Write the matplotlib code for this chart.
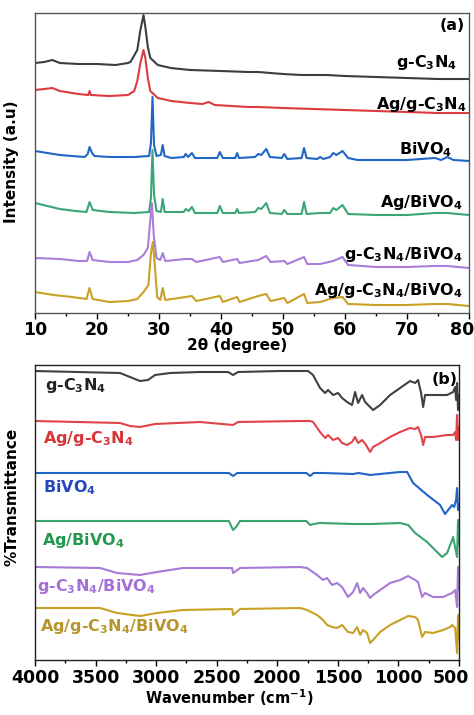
import matplotlib
matplotlib.use('Agg')
import matplotlib.pyplot as plt
import matplotlib.transforms as mtransforms
from matplotlib.ticker import MultipleLocator

plt.rcParams['font.family'] = ['DejaVu Sans']
plt.rcParams['font.weight'] = 'bold'
plt.rcParams['mathtext.default'] = 'bf'

# ---- XRD data (2theta, intensity a.u., offset stacked) ----
gcn_tt = [10, 11.5, 12.8, 14, 17, 20, 23, 25, 25.4, 26.5, 27.0, 27.5, 27.8, 28.2, 28.6, 29.8,
          31.9, 35, 40, 44.4, 46, 50, 53, 57, 60, 65, 70, 75, 80]
gcn_i = [250, 251, 253, 250, 249, 249, 248, 250, 251, 263, 283, 298, 286, 266, 255, 248,
         245, 243, 242, 241, 241, 239, 238, 238, 237, 236, 235, 234, 234]

aggcn_tt = [10, 11.5, 12.8, 14, 17, 18.6, 18.8, 19.0, 22, 25, 26, 26.5, 27.0, 27.5, 27.8, 28.2,
            28.6, 29.8, 32, 35, 37, 38, 39, 44.4, 46, 50, 55, 60, 65, 70, 75, 80]
aggcn_i = [223, 224, 225, 222, 219, 218, 222, 218, 217, 218, 222, 232, 250, 263, 255, 235,
           222, 215, 212, 210, 209, 211, 208, 206, 206, 205, 204, 203, 202, 201, 200, 200]

bvo_tt = [10, 12, 14, 16, 18, 18.5, 18.8, 19.2, 19.6, 22, 26, 28.4, 28.7, 28.95, 29.2, 29.6,
          30.3, 30.6, 30.9, 32, 34.0, 34.3, 34.7, 35.3, 35.8, 39.4, 39.8, 40.3, 42.3, 42.6, 42.9,
          45.5, 46.0, 46.5, 47.3, 47.9, 49.8, 50.2, 50.7, 53.0, 53.4, 53.8, 55.5, 56.0, 56.5,
          57.6, 58.1, 58.6, 59.6, 60.5, 62, 65, 70, 74.5, 75.5, 76.5, 77.5, 80]
bvo_i = [162, 160, 158, 157, 156, 159, 166, 160, 157, 156, 156, 157, 170, 216, 168, 157,
         158, 168, 157, 155, 156, 159, 156, 160, 155, 155, 161, 155, 155, 160, 155,
         156, 159, 158, 164, 156, 155, 159, 154, 155, 165, 155, 154, 156, 154,
         156, 160, 158, 162, 155, 153, 153, 153, 155, 153, 156, 153, 152]

agbvo_tt = [10, 12, 14, 16.5, 18.3, 18.8, 19.3, 22, 26, 28.4, 28.7, 28.95, 29.2, 29.6,
            30.3, 30.6, 30.9, 34.0, 34.3, 34.8, 35.3, 35.8, 39.4, 39.8, 40.3, 42.3, 42.6, 42.9,
            45.5, 46, 46.5, 47.3, 47.9, 49.8, 50.2, 50.7, 53.0, 53.4, 53.8, 56, 57.6, 58.1,
            58.6, 59.6, 60.5, 65, 70, 74.5, 76.5, 80]
agbvo_i = [110, 107, 104, 102, 101, 111, 103, 101, 100, 101, 115, 163, 118, 102,
           101, 114, 101, 101, 104, 102, 106, 100, 100, 107, 100, 100, 104, 100,
           101, 105, 104, 110, 100, 99, 103, 99, 99, 111, 99, 100, 100, 105,
           103, 108, 99, 98, 98, 100, 100, 98]

gcnbvo_tt = [10, 14, 17, 18.4, 18.8, 19.3, 22, 25, 26.5, 27.5, 28.2, 28.55, 28.85, 29.15, 29.6,
             30.2, 30.6, 31, 34.3, 35.3, 36, 39.8, 40.3, 42.6, 43, 46, 47.3, 48, 50.2, 50.7,
             53.4, 53.9, 56, 58.1, 59.6, 60.5, 65, 70, 74.5, 76.5, 80]
gcnbvo_i = [55, 54, 52, 52, 61, 53, 51, 51, 53, 58, 65, 90, 110, 78, 55,
            53, 60, 52, 54, 54, 51, 56, 51, 54, 50, 53, 57, 51, 52, 49,
            56, 49, 49, 52, 56, 48, 46, 46, 47, 47, 45]

all_tt = [10, 13, 16, 18.3, 18.8, 19.3, 22, 25, 26.5, 27.5, 28.3, 28.7, 29.0, 29.3, 29.7,
          30.2, 30.6, 31, 34.3, 35.3, 36, 39.8, 40.3, 42.6, 43, 46, 47.3, 48, 50.2, 50.7,
          53.4, 53.9, 56, 58.1, 59.6, 60.5, 65, 70, 74.5, 76.5, 80]
all_i = [21, 18, 16, 14, 25, 14, 11, 12, 14, 21, 28, 60, 71, 50, 16,
         13, 25, 13, 16, 17, 12, 17, 11, 16, 11, 17, 19, 12, 15, 10,
         19, 10, 11, 15, 16, 9, 8, 8, 9, 9, 7]

# ---- FTIR data (wavenumber cm-1, transmittance a.u., offset stacked) ----
ir_gcn_w = [4000, 3298, 3216, 3133, 3067, 3009, 2885, 2638, 2406, 2365, 2324, 1977, 1746, 1705,
            1647, 1605, 1581, 1539, 1498, 1465, 1424, 1383, 1358, 1333, 1300, 1275, 1234, 1209,
            1151, 1069, 986, 904, 862, 838, 813, 796, 780, 714, 598, 549, 532, 524, 516, 508, 500]
ir_gcn_t = [289, 287, 283, 279, 280, 285, 287, 288, 288, 285, 288, 289, 289, 285,
            272, 267, 270, 265, 267, 262, 258, 255, 268, 257, 265, 258, 253, 250,
            255, 265, 272, 279, 277, 280, 267, 253, 265, 265, 265, 268, 273, 260, 277, 250, 265]

ir_aggcn_w = [4000, 3298, 3216, 3133, 3009, 2638, 2365, 2324, 1812, 1729, 1705,
              1647, 1605, 1581, 1539, 1498, 1465, 1424, 1383, 1358, 1333, 1300, 1267, 1234, 1209,
              1151, 1069, 986, 904, 862, 838, 813, 796, 780, 714, 598, 549, 532, 524, 516, 508, 500]
ir_aggcn_t = [239, 237, 234, 233, 236, 238, 235, 238, 239, 239, 238,
              228, 222, 225, 220, 222, 217, 215, 218, 223, 217, 220, 215, 208, 213,
              217, 223, 228, 232, 231, 233, 225, 215, 223, 223, 225, 225, 228, 220, 245, 220, 233]

ir_bvo_w = [4000, 2400, 2365, 2330, 1760, 1729, 1700, 1622, 1374, 1330, 1234, 986, 928, 879,
            763, 656, 615, 557, 540, 524, 516, 508, 500]
ir_bvo_t = [187, 187, 184, 187, 187, 184, 187, 187, 186, 187, 185, 188, 188, 177,
            165, 155, 146, 155, 153, 160, 172, 150, 155]

ir_agbvo_w = [4000, 2400, 2365, 2340, 2307, 1760, 1729, 1700, 1647, 1374, 1217, 986, 920, 862,
              763, 681, 639, 598, 557, 549, 532, 516, 508, 500]
ir_agbvo_t = [139, 139, 130, 133, 139, 139, 135, 136, 137, 136, 136, 137, 135, 127,
              118, 108, 103, 107, 120, 123, 113, 103, 140, 115]

ir_gcnbvo_w = [4000, 3463, 3323, 3133, 2993, 2778, 2373, 2365, 2307, 1812, 1754, 1672, 1622,
               1589, 1548, 1506, 1465, 1416, 1374, 1341, 1316, 1292, 1259, 1234, 1209, 1151, 1069,
               986, 920, 862, 838, 805, 780, 714, 631, 557, 532, 516, 508, 500]
ir_gcnbvo_t = [93, 92, 87, 85, 88, 92, 92, 87, 92, 93, 92, 85, 80,
               82, 75, 77, 73, 63, 68, 77, 67, 72, 67, 62, 65, 70, 77,
               80, 84, 80, 78, 63, 67, 63, 63, 67, 70, 53, 93, 70]

ir_all_w = [4000, 3463, 3323, 3133, 2993, 2778, 2373, 2365, 2307, 1812, 1754, 1672, 1622,
            1589, 1548, 1506, 1465, 1416, 1374, 1341, 1316, 1292, 1259, 1234, 1209, 1151, 1069,
            986, 920, 862, 838, 805, 780, 714, 631, 573, 557, 532, 516, 508, 500]
ir_all_t = [52, 52, 47, 44, 47, 50, 51, 45, 51, 52, 50, 45, 40,
            35, 33, 32, 35, 28, 27, 33, 25, 30, 27, 17, 20, 28, 35,
            40, 44, 43, 40, 23, 28, 27, 30, 33, 35, 32, 7, 45, 20]

W, H = 474, 715
fig = plt.figure(figsize=(W / 100, H / 100), dpi=100)

def fx(px):
    return px / W

def fy(py):
    return 1 - py / H

lw = 1.5
tick_fs = 12.5
lab_fs = 11.5

# ---------------- (a) XRD ----------------
ax1 = fig.add_axes([fx(35), fy(313), fx(469) - fx(35), fy(13) - fy(313)])
ax1.plot(gcn_tt, gcn_i, color='#3d3d3d', lw=lw)
ax1.plot(aggcn_tt, aggcn_i, color='#dd3b3f', lw=lw)
ax1.plot(bvo_tt, bvo_i, color='#1f66c6', lw=lw)
ax1.plot(agbvo_tt, agbvo_i, color='#3aa676', lw=lw)
ax1.plot(gcnbvo_tt, gcnbvo_i, color='#a97dd8', lw=lw)
ax1.plot(all_tt, all_i, color='#c9a126', lw=lw)
ax1.set_xlim(10, 80)
ax1.set_ylim(0, 300)
ax1.set_yticks([])
ax1.xaxis.set_major_locator(MultipleLocator(10))
ax1.xaxis.set_minor_locator(MultipleLocator(5))
ax1.tick_params(axis='x', which='major', length=4, width=1, labelsize=tick_fs, pad=1.5)
ax1.tick_params(axis='x', which='minor', length=2.5, width=1)
for s in ax1.spines.values():
    s.set_linewidth(1)
    s.set_color('#555555')

top_labels = [('g-C$_3$N$_4$', 457, 63), ('Ag/g-C$_3$N$_4$', 467, 105), ('BiVO$_4$', 452, 150),
              ('Ag/BiVO$_4$', 463, 202), ('g-C$_3$N$_4$/BiVO$_4$', 463, 255),
              ('Ag/g-C$_3$N$_4$/BiVO$_4$', 463, 290)]
for txt, x, y in top_labels:
    fig.text(fx(x), fy(y), txt, ha='right', va='center', fontsize=lab_fs, fontweight='bold')
fig.text(fx(465), fy(25), '(a)', ha='right', va='center', fontsize=lab_fs, fontweight='bold')
fig.text(fx(237), fy(346), '2θ (degree)', ha='center', va='center', fontsize=11, fontweight='bold')
fig.text(fx(12), fy(162), 'Intensity (a.u)', ha='center', va='center', rotation=90,
         fontsize=11, fontweight='bold')

# ---------------- (b) FTIR ----------------
ax2 = fig.add_axes([fx(35), fy(660), fx(459) - fx(35), fy(365) - fy(660)])
ax2.plot(ir_gcn_w, ir_gcn_t, color='#404040', lw=lw)
ax2.plot(ir_aggcn_w, ir_aggcn_t, color='#e04448', lw=lw)
ax2.plot(ir_bvo_w, ir_bvo_t, color='#1f64c8', lw=lw)
ax2.plot(ir_agbvo_w, ir_agbvo_t, color='#3aa36e', lw=lw)
ax2.plot(ir_gcnbvo_w, ir_gcnbvo_t, color='#a87ad8', lw=lw)
ax2.plot(ir_all_w, ir_all_t, color='#c9a024', lw=lw)
ax2.set_xlim(4000, 500)
ax2.set_ylim(0, 295)
ax2.set_yticks([])
ax2.xaxis.set_major_locator(MultipleLocator(500))
ax2.xaxis.set_minor_locator(MultipleLocator(250))
ax2.tick_params(axis='x', which='major', length=4, width=1, labelsize=tick_fs, pad=2.5)
ax2.tick_params(axis='x', which='minor', length=2.5, width=1)
for s in ax2.spines.values():
    s.set_linewidth(1)
    s.set_color('#222222')

bot_labels = [('g-C$_3$N$_4$', 45, 386, '#222222'), ('Ag/g-C$_3$N$_4$', 43, 438, '#d83438'),
              ('BiVO$_4$', 43, 488, '#2448bd'), ('Ag/BiVO$_4$', 42, 540, '#22994c'),
              ('g-C$_3$N$_4$/BiVO$_4$', 37, 587, '#a46fd8'),
              ('Ag/g-C$_3$N$_4$/BiVO$_4$', 40, 627, '#b8952c')]
for txt, x, y, c in bot_labels:
    fig.text(fx(x), fy(y), txt, ha='left', va='center', fontsize=lab_fs, fontweight='bold', color=c)
fig.text(fx(432), fy(380), '(b)', ha='left', va='center', fontsize=lab_fs, fontweight='bold')
fig.text(fx(229), fy(698), 'Wavenumber (cm$^{-1}$)', ha='center', va='center',
         fontsize=10.5, fontweight='bold')
fig.text(fx(12), fy(497), '%Transmittance', ha='center', va='center', rotation=90,
         fontsize=11, fontweight='bold')

# pull the right-most tick labels in so they stay inside the image, as in the original
fig.canvas.draw()
for ax, edge, shift in ((ax1, 80, -7), (ax2, 500, -8)):
    for tick in ax.xaxis.get_major_ticks():
        if abs(tick.get_loc() - edge) < 1e-6:
            tick.label1.set_transform(tick.label1.get_transform() +
                                      mtransforms.ScaledTranslation(shift / 100, 0,
                                                                    fig.dpi_scale_trans))

fig.savefig('out.png', dpi=100)
